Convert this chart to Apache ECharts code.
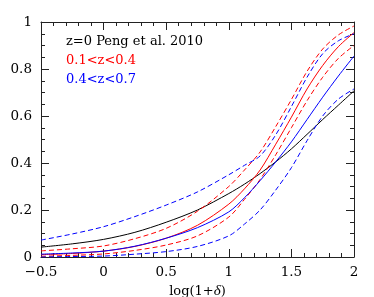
<!DOCTYPE html>
<html><head><meta charset="utf-8">
<script src="https://cdn.jsdelivr.net/npm/echarts@6/dist/echarts.min.js"></script>
<style>html,body{margin:0;padding:0;background:#fff}#c{width:374px;height:297px}</style>
</head><body><div id="c"></div>
<script>
// x grid log(1+delta)
const xGrid = [-0.5, -0.25, 0, 0.25, 0.5, 0.75, 1.0, 1.125, 1.25, 1.375, 1.5, 1.625, 1.75, 1.875, 2.0];
// z=0 Peng et al. 2010
const pengZ0 = [0.042, 0.056, 0.075, 0.105, 0.148, 0.200, 0.270, 0.310, 0.355, 0.405, 0.460, 0.522, 0.585, 0.646, 0.707];
// 0.1<z<0.4
const lowZ = [0.010, 0.015, 0.025, 0.045, 0.080, 0.135, 0.225, 0.290, 0.370, 0.480, 0.595, 0.715, 0.815, 0.895, 0.955];
const lowZUpper = [0.026, 0.035, 0.047, 0.078, 0.122, 0.195, 0.300, 0.370, 0.447, 0.555, 0.670, 0.790, 0.885, 0.945, 0.983];
const lowZLower = [0.003, 0.007, 0.013, 0.028, 0.051, 0.090, 0.170, 0.245, 0.330, 0.435, 0.550, 0.665, 0.765, 0.845, 0.900];
// 0.4<z<0.7
const midZ = [0.012, 0.017, 0.025, 0.046, 0.080, 0.125, 0.192, 0.252, 0.325, 0.405, 0.490, 0.585, 0.680, 0.770, 0.855];
const midZUpper = [0.072, 0.098, 0.129, 0.172, 0.221, 0.277, 0.350, 0.390, 0.430, 0.520, 0.640, 0.765, 0.865, 0.920, 0.950];
const midZLower = [0.000, 0.002, 0.004, 0.012, 0.023, 0.045, 0.090, 0.140, 0.200, 0.285, 0.380, 0.495, 0.600, 0.672, 0.715];
const xTicks = [-0.5, 0, 0.5, 1, 1.5, 2];
const yTicks = [0, 0.2, 0.4, 0.6, 0.8, 1];
const legendTexts = ['z=0 Peng et al. 2010', '0.1<z<0.4', '0.4<z<0.7'];

const pairs = (xs, ys) => xs.map((x, i) => [x, ys[i]]);
const RED = '#ff0000', BLUE = '#0000ff', BLACK = '#000000';
const FONT = 'DejaVu Serif';
const dash = [5, 3];
function mk(name, xs, ys, color, dashed) {
  return {
    name, type: 'line', data: pairs(xs, ys), showSymbol: false, smooth: 0.3,
    xAxisIndex: 0, yAxisIndex: 0,
    lineStyle: { color, width: 1, type: dashed ? dash : 'solid' }, z: 3
  };
}
const fmtX = v => String(Math.round(v * 10) / 10).replace('-', '\u2212');
const axisCommon = {
  axisLine: { show: true, onZero: false, lineStyle: { color: '#222', width: 1 } },
  axisTick: { show: true, inside: true, length: 8, lineStyle: { color: '#222' } },
  splitLine: { show: false }
};
const minorX = { minorTick: { show: true, splitNumber: 5, length: 4, lineStyle: { color: '#222' } } };
const minorY = { minorTick: { show: true, splitNumber: 4, length: 4, lineStyle: { color: '#222' } } };
const chart = echarts.init(document.getElementById('c'), null, { renderer: 'canvas' });
chart.setOption({
  animation: false,
  backgroundColor: '#fff',
  grid: { left: 41, right: 20, top: 22, bottom: 40, containLabel: false, outerBoundsMode: 'none' },
  xAxis: [
    Object.assign({ type: 'value', min: xTicks[0], max: xTicks[xTicks.length - 1], interval: 0.5, position: 'bottom',
      name: '{a|log(1+}{d|\u03b4}{a|)}', nameLocation: 'middle', nameGap: 24,
      nameTextStyle: { rich: { a: { fontFamily: FONT, fontSize: 13, color: '#000' }, d: { fontFamily: 'Liberation Serif', fontStyle: 'italic', fontSize: 15, color: '#000' } } },
      axisLabel: { formatter: fmtX, fontFamily: FONT, fontSize: 13.5, color: '#000', margin: 8 } }, axisCommon, minorX),
    Object.assign({ type: 'value', min: xTicks[0], max: xTicks[xTicks.length - 1], interval: 0.5, position: 'top',
      axisLabel: { show: false } }, axisCommon, minorX)
  ],
  yAxis: [
    Object.assign({ type: 'value', min: yTicks[0], max: yTicks[yTicks.length - 1], interval: 0.2, position: 'left',
      name: '{e|\u03b5}{s|\u03c1}', nameLocation: 'middle', nameGap: 29, nameRotate: 90,
      nameTextStyle: { rich: { e: { fontFamily: 'Liberation Serif', fontStyle: 'italic', fontSize: 14, color: '#000' }, s: { fontFamily: 'Liberation Serif', fontStyle: 'italic', fontSize: 9, color: '#000', verticalAlign: 'bottom', padding: [7, 0, 0, 0] } } },
      axisLabel: { formatter: v => String(Math.round(v * 10) / 10), fontFamily: FONT, fontSize: 13.5, color: '#000', margin: 9 } }, axisCommon, minorY),
    Object.assign({ type: 'value', min: yTicks[0], max: yTicks[yTicks.length - 1], interval: 0.2, position: 'right',
      axisLabel: { show: false } }, axisCommon, minorY)
  ],
  series: [
    mk('z=0', xGrid, pengZ0, BLACK, false),
    mk('lowZ', xGrid, lowZ, RED, false),
    mk('lowZUpper', xGrid, lowZUpper, RED, true),
    mk('lowZLower', xGrid, lowZLower, RED, true),
    mk('midZ', xGrid, midZ, BLUE, false),
    mk('midZUpper', xGrid, midZUpper, BLUE, true),
    mk('midZLower', xGrid, midZLower, BLUE, true)
  ],
  graphic: [
    { type: 'text', left: 66, top: 35.5, style: { text: legendTexts[0], fill: BLACK, font: '13px "' + FONT + '"' } },
    { type: 'text', left: 66, top: 54, style: { text: legendTexts[1], fill: RED, font: '13px "' + FONT + '"' } },
    { type: 'text', left: 66, top: 73, style: { text: legendTexts[2], fill: BLUE, font: '13px "' + FONT + '"' } }
  ]
});
</script></body></html>
